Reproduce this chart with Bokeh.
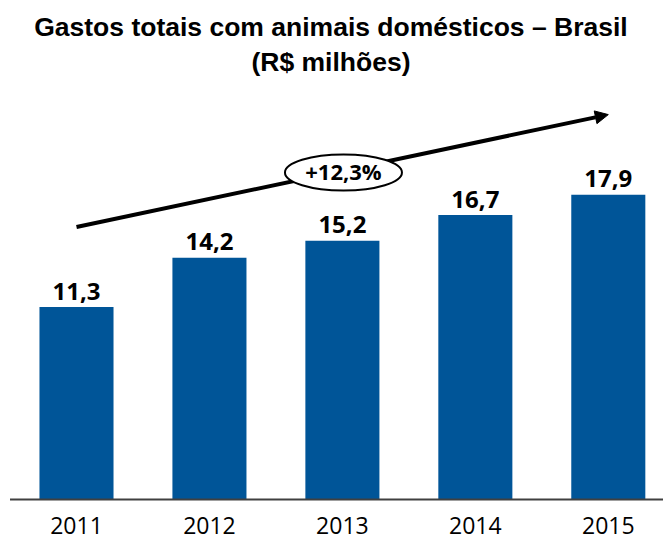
from bokeh.plotting import figure
from bokeh.models import Range1d, Arrow, NormalHead
from bokeh.core.properties import value
from bokeh.embed import file_html
from bokeh.resources import INLINE

years = ["2011", "2012", "2013", "2014", "2015"]
spending = [11.3, 14.2, 15.2, 16.7, 17.9]
value_labels = ["11,3", "14,2", "15,2", "16,7", "17,9"]
growth_label = "+12,3%"
title_line1 = "Gastos totais com animais domésticos – Brasil"
title_line2 = "(R$ milhões)"

xs = list(range(len(years)))
BLUE = "#005598"
X0, X1 = -0.5716, 4.4152

p = figure(width=663, height=542, output_backend="svg", toolbar_location=None,
           x_range=Range1d(X0, X1), y_range=Range1d(-2.525, 29.30),
           min_border=0, outline_line_color=None)
p.axis.visible = False
p.grid.visible = False

p.vbar(x=xs, top=spending, width=0.557, bottom=0, fill_color=BLUE, line_color=None)

# baseline (category axis line)
p.segment(x0=[-0.5], y0=[0], x1=[X1], y1=[0], line_color="#404040", line_width=2)

# value labels above bars
p.text(x=xs, y=[v + 0.94 for v in spending], text=value_labels,
       text_font=value("Open Sans"), text_font_style="bold", text_font_size="24px",
       text_align="center", text_baseline="alphabetic", text_color="black")

# category labels
p.text(x=xs, y=[-1.53] * len(xs), text=years,
       text_font=value("Open Sans"), text_font_size="23px",
       text_align="center", text_baseline="alphabetic", text_color="black")

# growth arrow (drawn beneath the ellipse)
p.add_layout(Arrow(x_start=0.0, y_start=16.0, x_end=4.0, y_end=22.6,
                   line_color="black", line_width=4, level="underlay",
                   end=NormalHead(size=13, fill_color="black", line_color="black", line_width=1)))

p.ellipse(x=[2.008], y=[19.2], width=[117], height=[36], width_units="screen",
          height_units="screen", fill_color="white", line_color="black", line_width=2)
p.text(x=[2.008], y=[19.3], text=[growth_label], text_font=value("Open Sans"),
       text_font_style="bold", text_font_size="22px", text_align="center",
       text_baseline="middle", text_color="black")

# title
p.text(x=[1.914], y=[27.72], text=[title_line1], text_font=value("Liberation Sans"),
       text_font_style="bold", text_font_size="26.5px", text_align="center",
       text_baseline="alphabetic", text_color="black")
p.text(x=[1.914], y=[25.66], text=[title_line2], text_font=value("Liberation Sans"),
       text_font_style="bold", text_font_size="26.5px", text_align="center",
       text_baseline="alphabetic", text_color="black")

open("out.html", "w").write(file_html(p, INLINE))
